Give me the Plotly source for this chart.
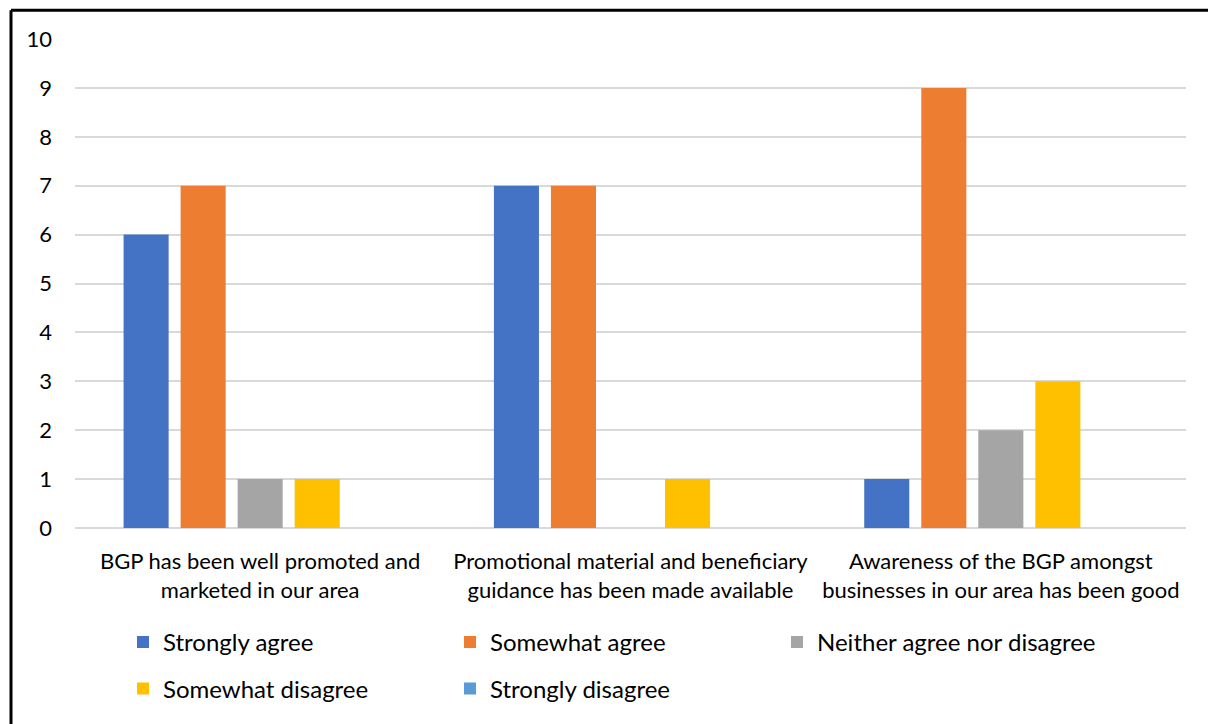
import plotly.graph_objects as go

# Survey statements (x categories) and response counts per answer option
categories = [
    "BGP has been well promoted and<br>marketed in our area",
    "Promotional material and beneficiary<br>guidance has been made available",
    "Awareness of the BGP amongst<br>businesses in our area has been good",
]
strongly_agree = [6, 7, 1]
somewhat_agree = [7, 7, 9]
neither = [1, 0, 2]
somewhat_disagree = [1, 1, 3]
strongly_disagree = [0, 0, 0]

y_ticks = list(range(0, 11))

series = [
    ("Strongly agree", strongly_agree, "#4472C4", "legend"),
    ("Somewhat agree", somewhat_agree, "#ED7D31", "legend"),
    ("Neither agree nor disagree", neither, "#A5A5A5", "legend"),
    ("Somewhat disagree", somewhat_disagree, "#FFC000", "legend2"),
    ("Strongly disagree", strongly_disagree, "#5B9BD5", "legend2"),
]

W, H = 1208, 724
ML, MR, MT, MB = 75, 22, 39, 193
PW, PH = W - ML - MR, H - MT - MB


def px_x(px):
    return (px - ML) / PW


def px_y(py):
    return (H - MB - py) / PH


FONT = "Lato, 'Open Sans', sans-serif"

fig = go.Figure()
for name, vals, color, leg in series:
    fig.add_trace(go.Bar(
        x=categories, y=vals, name=name, legend=leg,
        marker=dict(color=color, line=dict(width=0)),
    ))

legend_common = dict(
    orientation="h", xanchor="left", yanchor="middle",
    font=dict(family=FONT, size=24, color="#000000"),
    entrywidth=282, entrywidthmode="pixels",
    bgcolor="rgba(0,0,0,0)", borderwidth=0,
)

fig.update_layout(
    width=W, height=H,
    margin=dict(l=ML, r=MR, t=MT, b=MB),
    paper_bgcolor="white", plot_bgcolor="white",
    barmode="group", bargap=0.23, bargroupgap=0.21,
    font=dict(family=FONT, color="#000000"),
    legend=dict(x=px_x(123), y=px_y(646), **legend_common),
    legend2=dict(x=px_x(123), y=px_y(693), **legend_common),
    xaxis=dict(
        showgrid=False, showline=False, ticks="",
        tickfont=dict(family=FONT, size=22, color="#000000"),
        ticklabelstandoff=18,
    ),
    yaxis=dict(
        range=[0, 10], tickvals=y_ticks, ticks="",
        showgrid=True, gridcolor="#D9D9D9", gridwidth=2,
        zeroline=True, zerolinecolor="#D9D9D9", zerolinewidth=2,
        showline=False,
        tickfont=dict(family=FONT, size=22, color="#000000"),
        ticklabelstandoff=22,
    ),
    shapes=[
        dict(type="line", xref="paper", yref="paper",
             x0=px_x(11), x1=px_x(W + 5), y0=px_y(10), y1=px_y(10),
             line=dict(color="#000000", width=3)),
        dict(type="line", xref="paper", yref="paper",
             x0=px_x(11), x1=px_x(11), y0=px_y(10), y1=px_y(H + 5),
             line=dict(color="#000000", width=3)),
    ],
)

fig.write_html("out.html")
